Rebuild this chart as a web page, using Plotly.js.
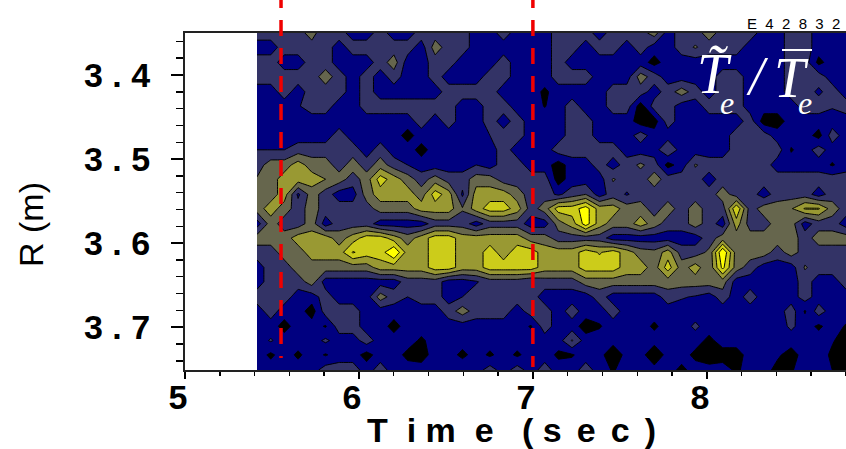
<!DOCTYPE html>
<html><head><meta charset="utf-8">
<script src="https://cdn.plot.ly/plotly-3.0.1.min.js"></script>
<style>html,body{margin:0;padding:0;background:#fff}</style></head>
<body><div id="chart" style="width:846px;height:449px"></div>
<script>
const timeSec=[5.414,5.493,5.571,5.650,5.729,5.808,5.886,5.965,6.044,6.123,6.201,6.280,6.359,6.438,6.516,6.595,6.674,6.753,6.831,6.910,6.989,7.068,7.146,7.225,7.304,7.383,7.461,7.540,7.619,7.698,7.776,7.855,7.934,8.013,8.091,8.170,8.249,8.328,8.406,8.485,8.564,8.643,8.721,8.800];
const radiusM=[3.350,3.367,3.385,3.402,3.420,3.437,3.455,3.472,3.489,3.507,3.524,3.542,3.559,3.577,3.594,3.611,3.629,3.646,3.664,3.681,3.699,3.716,3.733,3.751];
const r00=[2,2,2,2,3,1.5,2,1,1,2,1,1,2,2,2,2,1,1,2, 1,1,1,2,2,2,1,2,2,2,3,1,2,2,3,2,2,2,1,1,2,2,1,1,1];
const r01=[1,1,2,2,2,2,1,2,2,2,2,2,1,3,2,2,1,1,1, 1,1,1,2,2,1,2,2,1,2,1,1,2,2.6,2,2,2,1,1,1,2,2,1,1,1];
const r02=[2,2,1,1,2,2,1,1,1,2,3,1,1,2,2,1,1,1,2, 1,1,1,2,1,1,1,1,1,1,0.1,1,1,1,1,1,1,1,1,1,2,2,0.2,1,1];
const r03=[2,2,2,2,2,3,2,1,2,1,2,1,1,2,1,1,1,2,2, 1,1,1,2,2,2,1,1,1,3,2,1,1,1,1,2,2,1,1,1,2,2,2,1,1];
const r04=[1,1,2,1,2,2,2,1,2,1,1,1,1,1,2,2,2,2,1, 1,1,0.3,1,1,1,1,2,2,2,1,2,3,2,1,2,2,1,1,1,2,2,1.3,2,1];
const r05=[1,1,1,1.4,2,2,1,1,2,2,2,2,2,2,2,1,1,2,2, 1,1,0.45,1,2,1,1,2,2,0,2,2,1,1,2,2,2,1,1,1,1,2,2,1.6,2];
const r06=[1,1,1,1,1,1,1,1,1,1,1,1,2,1,2,1,1,2,1, 2,1,1,1,2,2,1,1,1,0,0,2,1,1,1,1,1,2,0,0,1,1,1,1,1];
const r07=[1,1,1,1,1,1,2,1,1,1,1,0.1,1,1,1,1,1,1.5,2, 2,1,1,1,2,2,1,1,1,2,1,1,1,1,1,1,2,2,2,1,1,1,0.1,2,1];
const r08=[1.5,1.5,1.5,2,2,2,2,2,1,2,1,1,0.1,1,1,1,1,1,2, 1,1,1,2,2,2,2,2,1,1,1,2.5,1,1,1,1,2,2,2,2,0.4,1,2,1,1];
const r09=[2,3,3,4,3,3,2,3,2,3,2,1.5,1,1,1,1,1.5,1,2, 2,1,1,0,1,1,2,1,2,2.7,2,0.1,1,2.6,2,2,2,2,2,1,1,1,1,0.4,1];
const r10=[2.6,3,4,4,4,3.5,3,2,3,5,4,3,2,3,2,2,3,3,2, 2,2,2,0,1,1,1,2.6,2,2,3,2,2,2,1,2,2,2,2,2,2,2,2,2,2];
const r11=[3,3,4,1.3,3,2,1,1,3,4,4,4,3,5,4,1.3,4,4,4, 3,2,2,1.3,2,2.5,1,2,1.4,2,2,2,2,2,2,3,2,2,1,2,2,2,1,2,2];
const r12=[3,4,3,2,3,2,2,2,2,3,3,3,4,4,4,2.6,4,5,5, 4,2,3,5,5,6,4,4,3,3,2,3,2,3,2,2,5.4,2,3,3,3.4,4.6,4.6,3,2];
const r13=[1,3,2,2,3,1,2,2,2,1,1,1,1,2,2,2,1,2,2, 2,1,1,3,4,6,4,3,3,4,3,2,2,3,2,1,4,2,2,3,3,1,2,2,1];
const r14=[3,3,3,4,4,4,3,4,5,5,4,3,4,5,5,4,4,4,4, 4,3,3,2,2,2,2,1,1,1,1,1,1,1,2,3,3,3,3,3,3,2,3,3,3];
const r15=[2,2,3,3,4,4,4,5.6,5,5,6.5,4,4,5,5,4,4,5,4, 5,5,4,4,4,5,4.4,5,4,3,2.8,4,2,2,2.7,6.5,3,3,3,2,3,2,2,2,2];
const r16=[1,2,2,3,3,3,3,3,3,4,4,4,4,5,5,4,4,5,5, 5,5,4,4,4,5,5,5,4,4,3,5,3,4,2.7,5.8,3,2,1,1,1,2.6,2,2,2];
const r17=[1,2,2,2,3,1,1,1,1,1,1,2,2,2,1,1,1.4,2,2, 2,1.6,2,2,2,3,3,3,3,3,3,3,3,3,3,3,1,1,1,1,1,2,1,1,2];
const r18=[2,2,2,1,1,2,1,1,1,3,2,1.5,2,2,1,1.5,2,2,2, 2,2,1,1,1,1,2,1,1,1,1,2,1.6,1.4,1,2,1,2,1,1,1,2,1,1,1];
const r19=[1,2,1,1,0,2,2,2,1,1,1,1,1,1,2,3,2,2,2, 1,2,2,1,2,1,1,2,1,1,1,1,1,1,1,1,1,1,1,1,2,0.4,2,1,1];
const r20=[1,1,0.1,1,1,0.4,2,2,1,1,0.1,1,1,1,1,1,1,1,1, 1,0.4,2,1,1,0,0.4,1,1,1,0.3,1,1,1.7,1,1,1,1,1,1,1.7,1,0.3,1,0.4];
const r21=[1,1.6,1,1,1,1.7,1,1,2,1,1,1,0.3,1,1,1,1,1,1, 1,1,1,1,2.6,1,1,1,1,1,1,1,1,1,0.2,1,1,1,1,1,1,1,1,0.6,0];
const r22=[1,0.3,1,0.3,1,0.4,1,1,0.1,1,1,0.2,0,1,1,0.2,1,0.3,1, 0.3,1,1,0.3,0.4,1,1,-0.5,1,1,-0.5,1,1,0.2,-0.3,0,0,1,1,0.7,0,1,1,0.3,0];
const r23=[1,1,1,1,1,2,2,2,1,2,1,1,1,1,1,1.4,1,2,1, 2,1,2,1,1,2,1,0.4,1,1,1,1,0.2,1,1,1,0.3,1,1,0.1,0.4,1,1,0.5,0];
const levelGrid=[r00,r01,r02,r03,r04,r05,r06,r07,r08,r09,r10,r11,r12,r13,r14,r15,r16,r17,r18,r19,r20,r21,r22,r23];
const bandColors=['#000000','#000080','#333366','#66664d','#999933','#cccc1a','#ffff00'];
const radiusTicks=[3.4,3.5,3.6,3.7];
const radiusLabels=['3 . 4','3 . 5','3 . 6','3 . 7'];
const timeTicks=[5,6,7,8];
const timeLabels=['5','6','7','8'];
const markerTimes=[5.552,7.0];
const sans='"Liberation Sans",Arial,sans-serif';
const serif='"Liberation Serif","Times New Roman",serif';
const colorscale=bandColors.map((c,i)=>[i/(bandColors.length-1),c]);
const data=[{type:'contour',x:timeSec,y:radiusM,z:levelGrid,autocontour:false,
 contours:{start:0.5,end:5.5,size:1,coloring:'fill',showlines:true},
 line:{color:'#000',width:1,smoothing:0},colorscale:colorscale,showscale:false,hoverinfo:'skip'}];
const px=x=>(x-185)/661, py=y=>(370-y)/337;
const note=(text,x,y,size,family,color,extra)=>Object.assign({text:text,xref:'paper',yref:'paper',x:px(x),y:py(y),xanchor:'center',yanchor:'middle',showarrow:false,font:Object.assign({size:size,family:family,color:color})},extra||{});
const nb='\u00a0', th=nb+'\u2006';
const xTitle='T'+nb+nb+'i'+nb+'m'+nb+nb+'e'+nb+nb+nb+'('+nb+'s'+th+'e'+th+'c'+th+')';
const layout={width:846,height:449,margin:{l:185,r:0,t:33,b:79},paper_bgcolor:'#fff',plot_bgcolor:'#fff',showlegend:false,
 xaxis:{range:[5,8.8],tickvals:timeTicks,ticktext:timeLabels,ticks:'outside',ticklen:7,tickwidth:1.5,tickcolor:'#000',
  showline:true,linewidth:2,linecolor:'#222',mirror:true,showgrid:false,zeroline:false,ticklabelshift:-7,ticklabelstandoff:-11,
  tickfont:{family:sans,size:34,color:'#000',weight:'bold'},
  minor:{dtick:0.2,ticks:'outside',ticklen:4,tickwidth:1.5,tickcolor:'#000',showgrid:false}},
 yaxis:{range:[3.751,3.35],tickvals:radiusTicks,ticktext:radiusLabels,ticks:'outside',ticklen:12,tickwidth:1.5,tickcolor:'#000',
  showline:true,linewidth:2,linecolor:'#222',mirror:true,showgrid:false,zeroline:false,ticklabelstandoff:14,
  tickfont:{family:sans,size:34,color:'#000',weight:'bold'},
  minor:{dtick:0.02,ticks:'outside',ticklen:7,tickwidth:1.5,tickcolor:'#000',showgrid:false}},
 shapes:[
  {type:'line',xref:'x',yref:'paper',x0:markerTimes[0],x1:markerTimes[0],y0:(370+8)/337,y1:12/337,line:{color:'#f00000',width:3.5,dash:'16px,12px'},layer:'above'},
  {type:'line',xref:'x',yref:'paper',x0:markerTimes[1],x1:markerTimes[1],y0:(370+8)/337,y1:3/337,line:{color:'#f00000',width:3.5,dash:'16px,12px'},layer:'above'},
  {type:'line',xref:'paper',yref:'paper',x0:px(782),x1:px(812),y0:py(50),y1:py(50),line:{color:'#fff',width:2},layer:'above'}],
 annotations:[
  note(xTitle,511,430,34,sans,'#000',{font:{size:34,family:sans,color:'#000',weight:'bold'}}),
  note('R (m)',31,225,34,sans,'#000',{textangle:-90}),
  note('E'+nb+nb+'4'+nb+nb+'2'+nb+nb+'8'+nb+nb+'3'+nb+nb+'2',793,23,15,sans,'#000'),
  note('<i>T\u0303</i>',714,74,56,serif,'#fff'),
  note('<i>e</i>',727,103,32,serif,'#fff'),
  note('<i>/</i>',757,76,54,serif,'#fff'),
  note('<i>T</i>',791,78,56,serif,'#fff'),
  note('<i>e</i>',805,103,32,serif,'#fff')
 ]};
Plotly.newPlot('chart',data,layout,{displayModeBar:false,staticPlot:true});
</script></body></html>
